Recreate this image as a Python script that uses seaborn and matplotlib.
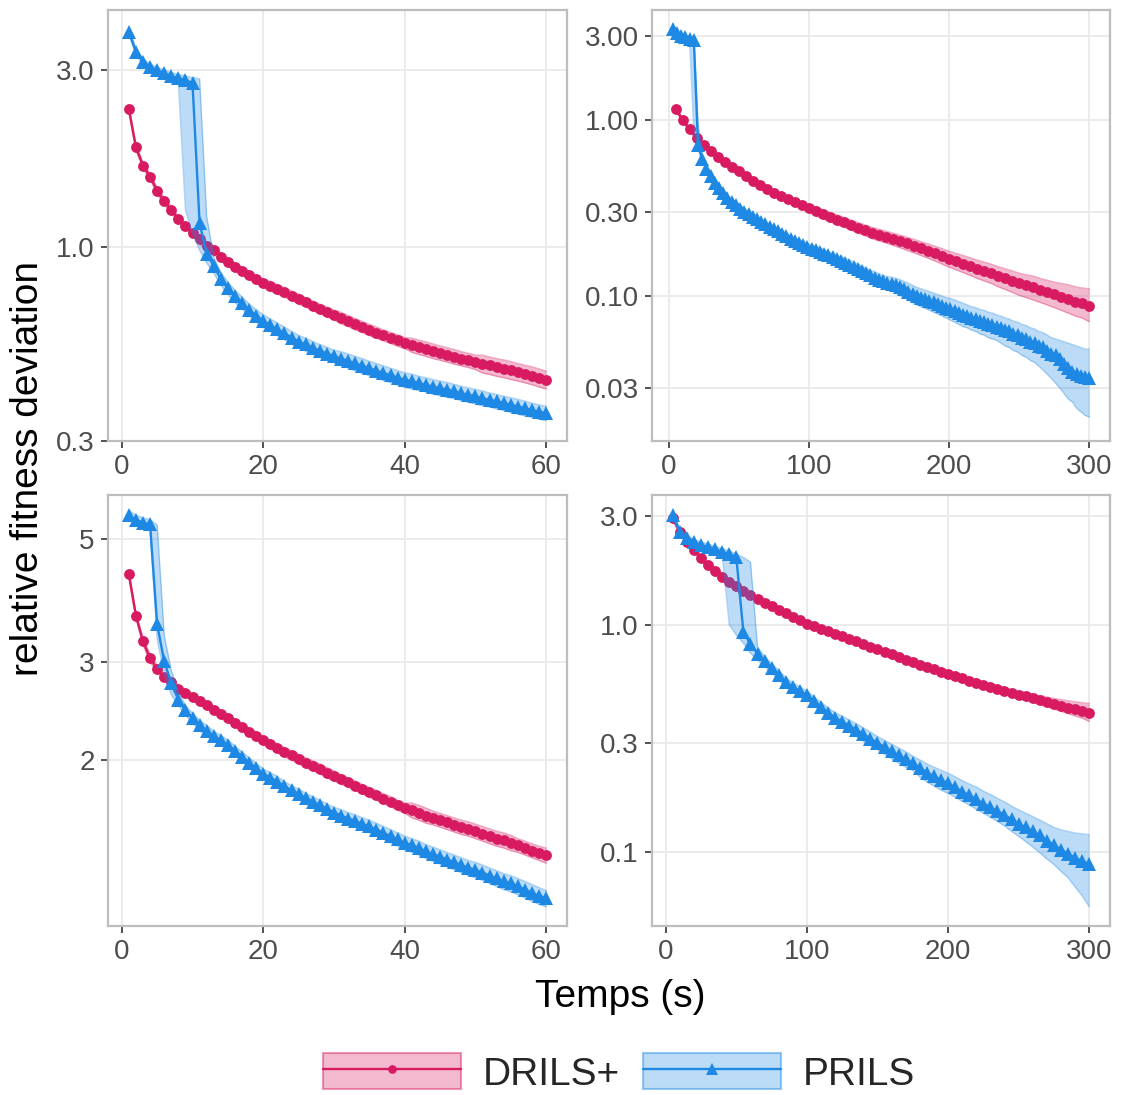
import numpy as np
import pandas as pd
import matplotlib
matplotlib.use("Agg")
import matplotlib.pyplot as plt
import seaborn as sns
from matplotlib.ticker import FixedLocator, FixedFormatter, NullLocator
from matplotlib.patches import Patch
from matplotlib.lines import Line2D
from matplotlib.legend_handler import HandlerTuple
from matplotlib.colors import to_rgba

# ---------------- data ----------------
ALGOS = ["DRILS+", "PRILS"]

T_60 = list(range(1, 61))
T_300_5 = list(range(5, 301, 5))
T_300_3 = list(range(3, 301, 3))

# top-left panel (60 s)
TL_DRILS_MEAN = [2.36,1.86,1.66,1.55,1.42,1.33,1.26,1.19,1.14,1.09,
                 1.05,1.01,0.98,0.94,0.91,0.885,0.86,0.84,0.82,0.80,
                 0.785,0.77,0.755,0.74,0.725,0.71,0.695,0.682,0.669,0.656,
                 0.644,0.632,0.62,0.609,0.598,0.588,0.578,0.569,0.56,0.551,
                 0.544,0.537,0.531,0.524,0.518,0.512,0.506,0.50,0.495,0.489,
                 0.484,0.479,0.474,0.47,0.465,0.46,0.455,0.45,0.444,0.438]
TL_DRILS_LO = [2.31,1.82,1.63,1.52,1.39,1.30,1.23,1.17,1.12,1.07,
               1.02,0.985,0.955,0.917,0.887,0.863,0.838,0.819,0.80,0.78,
               0.761,0.747,0.732,0.718,0.703,0.689,0.674,0.662,0.649,0.636,
               0.621,0.610,0.598,0.588,0.577,0.567,0.558,0.549,0.540,0.532,
               0.520,0.513,0.507,0.500,0.495,0.489,0.483,0.478,0.473,0.467,
               0.457,0.453,0.448,0.444,0.439,0.435,0.430,0.425,0.419,0.414]
TL_DRILS_HI = [2.41,1.90,1.69,1.58,1.45,1.36,1.29,1.21,1.16,1.11,
               1.08,1.035,1.005,0.964,0.933,0.907,0.882,0.861,0.84,0.82,
               0.809,0.793,0.778,0.762,0.747,0.731,0.716,0.702,0.689,0.676,
               0.667,0.654,0.642,0.630,0.619,0.609,0.598,0.589,0.580,0.570,
               0.568,0.561,0.555,0.548,0.541,0.535,0.529,0.522,0.517,0.511,
               0.511,0.505,0.500,0.496,0.491,0.485,0.480,0.475,0.469,0.462]
TL_PRILS_MEAN = [3.82,3.37,3.17,3.07,3.00,2.95,2.90,2.86,2.83,2.77,
                 1.16,0.96,0.89,0.82,0.774,0.736,0.706,0.677,0.653,0.632,
                 0.615,0.600,0.585,0.570,0.556,0.546,0.535,0.525,0.516,0.507,
                 0.500,0.493,0.485,0.478,0.471,0.464,0.457,0.451,0.444,0.438,
                 0.434,0.429,0.425,0.420,0.416,0.412,0.408,0.403,0.399,0.395,
                 0.391,0.387,0.383,0.379,0.375,0.371,0.367,0.363,0.359,0.356]
TL_PRILS_LO = [3.74,3.30,3.11,3.01,2.94,2.89,2.84,2.78,1.26,1.09,
               0.98,0.905,0.85,0.79,0.745,0.708,0.68,0.652,0.628,0.608,
               0.590,0.576,0.562,0.547,0.534,0.524,0.514,0.504,0.495,0.487,
               0.478,0.471,0.463,0.456,0.450,0.443,0.436,0.431,0.424,0.418,
               0.414,0.410,0.406,0.401,0.397,0.393,0.390,0.385,0.381,0.377,
               0.373,0.370,0.366,0.362,0.358,0.354,0.350,0.347,0.343,0.340]
TL_PRILS_HI = [3.90,3.44,3.23,3.13,3.06,3.01,2.96,2.93,2.90,2.87,
               2.85,1.21,0.94,0.855,0.805,0.765,0.734,0.703,0.678,0.657,
               0.640,0.624,0.608,0.593,0.578,0.568,0.556,0.546,0.537,0.527,
               0.522,0.515,0.507,0.500,0.492,0.485,0.478,0.471,0.464,0.458,
               0.454,0.448,0.444,0.439,0.435,0.431,0.426,0.421,0.417,0.413,
               0.409,0.404,0.400,0.396,0.392,0.388,0.384,0.379,0.375,0.372]

# top-right panel (300 s)
TR_DRILS_MEAN = [1.16,1.00,0.885,0.795,0.725,0.668,0.618,0.575,0.540,0.510,
                 0.480,0.452,0.428,0.405,0.385,0.368,0.355,0.342,0.328,0.315,
                 0.303,0.292,0.282,0.272,0.263,0.254,0.245,0.237,0.229,0.223,
                 0.217,0.211,0.205,0.199,0.193,0.187,0.181,0.175,0.169,0.163,
                 0.158,0.153,0.148,0.143,0.139,0.135,0.130,0.126,0.122,0.118,
                 0.115,0.112,0.108,0.105,0.102,0.099,0.096,0.093,0.091,0.088]
TR_DRILS_LO = [1.125,0.970,0.858,0.771,0.703,0.648,0.599,0.558,0.524,0.495,
               0.461,0.434,0.411,0.389,0.370,0.353,0.341,0.328,0.315,0.302,
               0.285,0.274,0.265,0.254,0.246,0.237,0.228,0.220,0.212,0.206,
               0.200,0.194,0.188,0.182,0.176,0.170,0.164,0.158,0.152,0.146,
               0.141,0.136,0.131,0.126,0.122,0.118,0.113,0.109,0.105,0.101,
               0.098,0.095,0.092,0.089,0.086,0.083,0.080,0.077,0.075,0.0715]
TR_DRILS_HI = [1.195,1.030,0.912,0.819,0.747,0.688,0.637,0.592,0.556,0.525,
               0.499,0.470,0.445,0.421,0.400,0.383,0.369,0.356,0.341,0.328,
               0.321,0.310,0.299,0.290,0.280,0.271,0.262,0.254,0.246,0.240,
               0.234,0.228,0.222,0.216,0.210,0.204,0.198,0.192,0.186,0.180,
               0.175,0.170,0.165,0.160,0.156,0.152,0.147,0.143,0.139,0.135,
               0.132,0.130,0.126,0.123,0.120,0.118,0.116,0.113,0.111,0.110]
TR_PRILS_MEAN = [3.27,3.11,3.01,2.95,2.90,2.85,
                 0.72,0.60,0.53,0.48,0.44,0.41,0.385,0.362,0.343,0.328,
                 0.314,0.302,0.292,0.282,0.273,0.264,0.256,0.248,0.240,0.233,
                 0.226,0.219,0.212,0.206,0.201,0.196,0.191,0.186,0.182,0.178,
                 0.174,0.170,0.166,0.162,0.158,0.155,0.151,0.147,0.143,0.139,
                 0.135,0.131,0.127,0.124,0.121,0.119,0.117,0.115,0.112,0.109,
                 0.106,0.103,0.100,0.098,0.096,0.094,0.092,0.090,0.088,0.086,
                 0.084,0.082,0.080,0.078,0.077,0.075,0.074,0.072,0.071,0.069,
                 0.068,0.067,0.066,0.064,0.063,0.061,0.060,0.058,0.057,0.055,
                 0.054,0.052,0.051,0.049,0.047,0.046,0.044,0.041,0.039,0.037,
                 0.036,0.035,0.0345,0.034]
TR_PRILS_LO = [3.18,3.02,2.93,2.87,2.80,0.85,
               0.68,0.575,0.509,0.461,0.422,0.394,0.370,0.348,0.329,0.315,
               0.301,0.290,0.280,0.271,0.262,0.253,0.246,0.238,0.230,0.224,
               0.217,0.210,0.204,0.198,0.193,0.188,0.183,0.177,0.173,0.169,
               0.165,0.161,0.157,0.153,0.149,0.146,0.142,0.138,0.134,0.130,
               0.126,0.122,0.118,0.115,0.111,0.109,0.107,0.104,0.101,0.098,
               0.095,0.092,0.089,0.087,0.085,0.083,0.081,0.079,0.077,0.075,
               0.073,0.071,0.069,0.067,0.066,0.064,0.063,0.061,0.060,0.058,
               0.057,0.056,0.054,0.052,0.051,0.049,0.048,0.046,0.045,0.043,
               0.042,0.040,0.038,0.036,0.034,0.032,0.030,0.028,0.026,0.025,
               0.023,0.022,0.021,0.0205]
TR_PRILS_HI = [3.36,3.20,3.10,3.04,3.00,2.95,
               0.95,0.625,0.551,0.499,0.458,0.426,0.400,0.376,0.357,0.341,
               0.327,0.314,0.304,0.293,0.284,0.275,0.266,0.258,0.250,0.242,
               0.235,0.228,0.220,0.214,0.209,0.204,0.199,0.195,0.191,0.187,
               0.183,0.179,0.175,0.171,0.167,0.164,0.160,0.156,0.152,0.148,
               0.144,0.140,0.137,0.134,0.131,0.129,0.128,0.126,0.124,0.121,
               0.118,0.115,0.112,0.110,0.108,0.106,0.104,0.102,0.100,0.098,
               0.097,0.095,0.093,0.091,0.089,0.087,0.086,0.084,0.083,0.081,
               0.080,0.078,0.077,0.075,0.074,0.072,0.071,0.069,0.068,0.066,
               0.065,0.063,0.062,0.060,0.058,0.057,0.056,0.055,0.054,0.053,
               0.052,0.051,0.050,0.050]

# bottom-left panel (60 s)
BL_DRILS_MEAN = [4.32,3.64,3.27,3.05,2.92,2.82,2.76,2.69,2.64,2.60,
                 2.555,2.51,2.465,2.42,2.38,2.335,2.29,2.25,2.21,2.17,
                 2.135,2.10,2.07,2.04,2.01,1.98,1.955,1.93,1.90,1.875,
                 1.85,1.825,1.80,1.775,1.75,1.73,1.705,1.685,1.66,1.64,
                 1.625,1.61,1.59,1.575,1.56,1.545,1.53,1.515,1.505,1.49,
                 1.475,1.46,1.445,1.435,1.42,1.405,1.39,1.375,1.36,1.35]
BL_DRILS_LO = [4.26,3.59,3.22,3.00,2.88,2.78,2.72,2.65,2.60,2.56,
               2.52,2.47,2.43,2.38,2.34,2.30,2.255,2.215,2.175,2.135,
               2.095,2.06,2.03,2.00,1.97,1.94,1.915,1.89,1.86,1.835,
               1.81,1.79,1.765,1.74,1.715,1.695,1.67,1.65,1.625,1.605,
               1.575,1.56,1.54,1.53,1.515,1.50,1.485,1.47,1.46,1.445,
               1.43,1.415,1.40,1.39,1.375,1.365,1.35,1.335,1.32,1.305]
BL_DRILS_HI = [4.38,3.69,3.32,3.10,2.96,2.86,2.80,2.73,2.68,2.64,
               2.59,2.55,2.50,2.46,2.42,2.37,2.325,2.285,2.245,2.205,
               2.175,2.14,2.11,2.08,2.05,2.02,1.995,1.97,1.94,1.915,
               1.885,1.86,1.835,1.81,1.785,1.765,1.74,1.72,1.695,1.675,
               1.675,1.66,1.64,1.62,1.605,1.59,1.575,1.56,1.55,1.535,
               1.52,1.505,1.49,1.48,1.465,1.445,1.43,1.415,1.40,1.39]
BL_PRILS_MEAN = [5.52,5.41,5.35,5.31,3.51,3.01,2.75,2.57,2.46,2.38,
                 2.31,2.26,2.21,2.17,2.13,2.08,2.03,1.98,1.935,1.89,
                 1.86,1.83,1.795,1.765,1.74,1.71,1.685,1.66,1.635,1.61,
                 1.59,1.57,1.555,1.535,1.52,1.50,1.48,1.46,1.44,1.42,
                 1.405,1.39,1.37,1.355,1.34,1.325,1.31,1.295,1.28,1.27,
                 1.255,1.24,1.225,1.21,1.20,1.185,1.17,1.155,1.14,1.13]
BL_PRILS_LO = [5.41,5.30,5.24,5.20,3.30,2.85,2.62,2.51,2.41,2.33,
               2.26,2.21,2.165,2.125,2.085,2.04,1.99,1.94,1.895,1.85,
               1.82,1.79,1.76,1.73,1.705,1.675,1.65,1.625,1.60,1.575,
               1.55,1.53,1.515,1.495,1.48,1.46,1.44,1.42,1.40,1.38,
               1.365,1.35,1.33,1.315,1.30,1.285,1.27,1.255,1.24,1.23,
               1.215,1.20,1.185,1.17,1.16,1.145,1.13,1.115,1.10,1.09]
BL_PRILS_HI = [5.63,5.52,5.46,5.42,5.30,3.35,2.90,2.65,2.51,2.43,
               2.36,2.31,2.255,2.215,2.175,2.12,2.07,2.02,1.975,1.93,
               1.90,1.87,1.83,1.80,1.775,1.745,1.72,1.695,1.67,1.645,
               1.63,1.61,1.595,1.575,1.56,1.54,1.52,1.50,1.48,1.46,
               1.445,1.43,1.41,1.395,1.38,1.365,1.35,1.335,1.32,1.31,
               1.295,1.28,1.265,1.25,1.24,1.225,1.21,1.195,1.18,1.165]

# bottom-right panel (300 s)
BR_DRILS_MEAN = [2.94,2.57,2.32,2.13,1.96,1.83,1.73,1.63,1.55,1.48,
                 1.41,1.35,1.30,1.25,1.205,1.165,1.125,1.085,1.045,1.01,
                 0.985,0.96,0.935,0.91,0.888,0.866,0.845,0.822,0.800,0.780,
                 0.760,0.740,0.720,0.702,0.685,0.668,0.652,0.637,0.622,0.607,
                 0.594,0.581,0.568,0.556,0.544,0.533,0.522,0.512,0.502,0.493,
                 0.484,0.475,0.466,0.457,0.448,0.440,0.432,0.424,0.416,0.408]
BR_DRILS_LO = [2.87,2.51,2.26,2.08,1.91,1.78,1.69,1.59,1.51,1.44,
               1.375,1.315,1.27,1.22,1.175,1.135,1.095,1.06,1.02,0.985,
               0.96,0.935,0.91,0.887,0.866,0.844,0.824,0.801,0.780,0.760,
               0.734,0.714,0.695,0.677,0.661,0.645,0.629,0.615,0.600,0.586,
               0.573,0.561,0.548,0.537,0.525,0.514,0.504,0.494,0.484,0.476,
               0.465,0.455,0.445,0.435,0.425,0.416,0.406,0.397,0.388,0.375]
BR_DRILS_HI = [3.01,2.63,2.38,2.18,2.01,1.88,1.77,1.67,1.59,1.52,
               1.445,1.385,1.33,1.28,1.235,1.195,1.155,1.11,1.07,1.035,
               1.01,0.985,0.96,0.933,0.91,0.888,0.866,0.843,0.820,0.800,
               0.786,0.766,0.745,0.727,0.709,0.691,0.675,0.659,0.644,0.628,
               0.615,0.601,0.588,0.575,0.563,0.552,0.540,0.530,0.520,0.510,
               0.503,0.496,0.488,0.481,0.474,0.468,0.463,0.458,0.454,0.450]
BR_PRILS_MEAN = [3.04,2.57,2.40,2.32,2.24,2.21,2.15,2.10,2.05,1.98,
                 0.93,0.82,0.745,0.69,0.645,0.60,0.56,0.533,0.51,0.49,
                 0.46,0.435,0.41,0.39,0.374,0.359,0.345,0.33,0.315,0.302,
                 0.289,0.277,0.266,0.256,0.246,0.234,0.223,0.215,0.207,0.200,
                 0.192,0.184,0.177,0.170,0.163,0.157,0.151,0.145,0.139,0.133,
                 0.128,0.123,0.118,0.112,0.107,0.102,0.098,0.094,0.091,0.088]
BR_PRILS_LO = [2.95,2.49,2.33,2.25,2.17,2.14,2.09,2.03,1.00,0.90,
               0.83,0.75,0.70,0.655,0.615,0.57,0.535,0.51,0.488,0.468,
               0.44,0.415,0.391,0.372,0.352,0.336,0.322,0.307,0.293,0.282,
               0.269,0.257,0.246,0.236,0.228,0.214,0.203,0.195,0.187,0.181,
               0.174,0.167,0.161,0.154,0.148,0.142,0.136,0.130,0.123,0.117,
               0.111,0.105,0.099,0.093,0.088,0.082,0.077,0.070,0.064,0.0573]
BR_PRILS_HI = [3.13,2.65,2.47,2.39,2.31,2.28,2.21,2.17,2.12,2.05,
               1.98,1.89,0.80,0.725,0.675,0.63,0.585,0.556,0.532,0.512,
               0.482,0.456,0.431,0.41,0.396,0.381,0.367,0.352,0.337,0.322,
               0.310,0.298,0.287,0.276,0.264,0.254,0.244,0.236,0.229,0.222,
               0.214,0.206,0.199,0.193,0.185,0.179,0.172,0.166,0.159,0.153,
               0.148,0.143,0.138,0.133,0.128,0.125,0.123,0.121,0.120,0.119]

# axis ticks / labels
X_TICKS_60 = [0, 20, 40, 60]
X_TICKS_300 = [0, 100, 200, 300]
TL_YTICKS, TL_YLABELS = [0.3, 1.0, 3.0], ["0.3", "1.0", "3.0"]
TR_YTICKS, TR_YLABELS = [0.03, 0.1, 0.3, 1.0, 3.0], ["0.03", "0.10", "0.30", "1.00", "3.00"]
BL_YTICKS, BL_YLABELS = [2, 3, 5], ["2", "3", "5"]
BR_YTICKS, BR_YLABELS = [0.1, 0.3, 1.0, 3.0], ["0.1", "0.3", "1.0", "3.0"]
X_LABEL = "Temps (s)"
Y_LABEL = "relative fitness deviation"

# ---------------- style ----------------
sns.set_theme(style="white")
plt.rcParams['font.family'] = ['Liberation Sans', 'DejaVu Sans']

COLORS = {"DRILS+": "#D81B60", "PRILS": "#1E88E5"}
MARKERS = {"DRILS+": "o", "PRILS": "^"}
MSIZE = {"DRILS+": 7.8, "PRILS": 10.0}

W, H = 1122, 1095
fig = plt.figure(figsize=(W / 100, H / 100), dpi=100)


def add_ax(l, t, r, b):
    return fig.add_axes([l / W, 1 - b / H, (r - l) / W, (b - t) / H])


def draw_panel(ax, series, xlim, ylim, xticks, yticks, ylabels):
    ax.set_yscale('log')
    z = 2
    for name, t, m, lo, hi in series:
        col = COLORS[name]
        ax.fill_between(t, lo, hi, color=col, alpha=0.3, linewidth=0, zorder=z)
        ax.plot(t, lo, color=col, alpha=0.35, linewidth=1.0, zorder=z)
        ax.plot(t, hi, color=col, alpha=0.35, linewidth=1.0, zorder=z)
        df = pd.DataFrame({"t": t, "v": m, "algo": name})
        sns.lineplot(data=df, x="t", y="v", ax=ax, color=col,
                     marker=MARKERS[name], markersize=MSIZE[name],
                     markeredgewidth=0, linewidth=1.7, zorder=z + 1,
                     legend=False, estimator=None)
        z += 2
    ax.set_xlim(*xlim)
    ax.set_ylim(*ylim)
    ax.xaxis.set_major_locator(FixedLocator(xticks))
    ax.yaxis.set_major_locator(FixedLocator(yticks))
    ax.yaxis.set_major_formatter(FixedFormatter(ylabels))
    ax.yaxis.set_minor_locator(NullLocator())
    ax.xaxis.set_minor_locator(NullLocator())
    ax.set_xlabel("")
    ax.set_ylabel("")
    ax.grid(True, which='major', color='#EBEBEB', linewidth=1.4)
    ax.set_axisbelow(True)
    for s in ax.spines.values():
        s.set_color('#BDBDBD')
        s.set_linewidth(1.6)
        s.set_visible(True)
    ax.tick_params(axis='both', which='major', left=True, bottom=True,
                   direction='out', length=5, width=1.2, color='#333333',
                   labelcolor='#4D4D4D', labelsize=20, pad=4.5)


ax_tl = add_ax(108, 10, 567, 441)
ax_tr = add_ax(652, 10, 1110, 441)
ax_bl = add_ax(108, 495, 567, 926)
ax_br = add_ax(652, 495, 1110, 926)

draw_panel(ax_tl,
           [("DRILS+", T_60, TL_DRILS_MEAN, TL_DRILS_LO, TL_DRILS_HI),
            ("PRILS", T_60, TL_PRILS_MEAN, TL_PRILS_LO, TL_PRILS_HI)],
           (-1.95, 62.95), (0.2995, 4.37), X_TICKS_60, TL_YTICKS, TL_YLABELS)
draw_panel(ax_tr,
           [("DRILS+", T_300_5, TR_DRILS_MEAN, TR_DRILS_LO, TR_DRILS_HI),
            ("PRILS", T_300_3, TR_PRILS_MEAN, TR_PRILS_LO, TR_PRILS_HI)],
           (-11.85, 314.85), (0.0150, 4.22), X_TICKS_300, TR_YTICKS, TR_YLABELS)
draw_panel(ax_bl,
           [("DRILS+", T_60, BL_DRILS_MEAN, BL_DRILS_LO, BL_DRILS_HI),
            ("PRILS", T_60, BL_PRILS_MEAN, BL_PRILS_LO, BL_PRILS_HI)],
           (-1.95, 62.95), (1.006, 6.0), X_TICKS_60, BL_YTICKS, BL_YLABELS)
draw_panel(ax_br,
           [("DRILS+", T_300_5, BR_DRILS_MEAN, BR_DRILS_LO, BR_DRILS_HI),
            ("PRILS", T_300_5, BR_PRILS_MEAN, BR_PRILS_LO, BR_PRILS_HI)],
           (-9.75, 314.75), (0.0471, 3.73), X_TICKS_300, BR_YTICKS, BR_YLABELS)

fig.text(28 / W, 1 - 468 / H, Y_LABEL, rotation=90, ha='center', va='center',
         fontsize=28, color='black')
fig.text(620 / W, 1 - 997 / H, X_LABEL, ha='center', va='center',
         fontsize=28, color='black')

handles = []
for name in ALGOS:
    col = COLORS[name]
    p = Patch(facecolor=to_rgba(col, 0.3), edgecolor=to_rgba(col, 0.45), linewidth=1.5)
    l = Line2D([], [], color=col, marker=MARKERS[name], markersize=MSIZE[name] * 0.8,
               markeredgewidth=0, linewidth=1.7)
    handles.append((p, l))

fig.legend(handles=handles, labels=ALGOS, loc='center',
           bbox_to_anchor=(619 / W, 1 - 1073 / H), ncol=2, frameon=False,
           fontsize=28, handlelength=3.55, handleheight=1.05,
           handletextpad=0.57, columnspacing=0.57, borderpad=0.2,
           handler_map={tuple: HandlerTuple(ndivide=1)})

fig.savefig("out.png", dpi=100)
